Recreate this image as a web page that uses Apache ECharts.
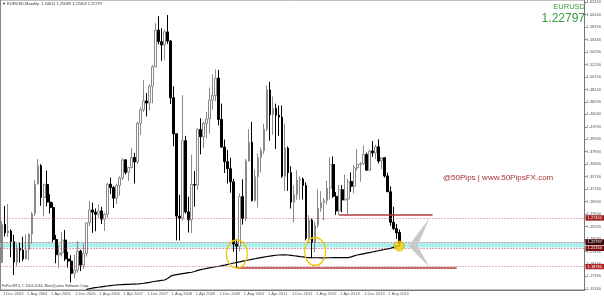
<!DOCTYPE html>
<html><head><meta charset="utf-8">
<script src="https://cdn.jsdelivr.net/npm/echarts@6/dist/echarts.min.js"></script>
<style>html,body{margin:0;padding:0;background:#fff}#c{width:604px;height:297px}</style>
</head><body><div id="c"></div>
<script>
// ---- data ----
const tickLabels = ["1 Dec 2003","1 Aug 2004","1 Apr 2005","1 Dec 2005","1 Aug 2006","1 Apr 2007","1 Dec 2007","1 Aug 2008","1 Apr 2009","1 Dec 2009","1 Aug 2010","1 Apr 2011","1 Dec 2011","1 Aug 2012","1 Apr 2013","1 Dec 2013","1 Aug 2014"];
const yTicks = [1.62490,1.60440,1.58390,1.56340,1.54290,1.52240,1.50190,1.48140,1.46090,1.44040,1.41990,1.39940,1.37890,1.35840,1.33790,1.31740,1.29690,1.27640,1.25590,1.23540,1.21490,1.19440,1.17390,1.15340];
const opens = [1.1965,
1.2595,1.2455,1.2485,1.2310,1.1975,1.2200,1.2170,1.2025,1.2175,1.2435,1.2770,1.3260,
1.3560,1.3035,1.3250,1.2960,1.2870,1.2345,1.2095,1.2125,1.2335,1.2025,1.1990,1.1790,
1.1840,1.2155,1.1925,1.2115,1.2620,1.2830,1.2795,1.2760,1.2815,1.2680,1.2760,1.3255,
1.3200,1.3025,1.3235,1.3355,1.3655,1.3450,1.3530,1.3695,1.3620,1.4255,1.4480,1.4625,
1.4590,1.4865,1.5185,1.5790,1.5600,1.5545,1.5760,1.5610,1.4675,1.4085,1.2730,1.2695,
1.3970,1.2800,1.2670,1.3250,1.3240,1.4155,1.4035,1.4255,1.4330,1.4640,1.4715,1.5000,
1.4320,1.3865,1.3625,1.3510,1.3295,1.2270,1.2235,1.3050,1.2690,1.3635,1.3945,1.2985,
1.3380,1.3695,1.3805,1.4160,1.4805,1.4395,1.4500,1.4390,1.4360,1.3385,1.3850,1.3445,
1.2960,1.3085,1.3325,1.3340,1.3235,1.2365,1.2665,1.2300,1.2580,1.2860,1.2955,1.2985,
1.3190,1.3580,1.3055,1.2815,1.3165,1.2995,1.3010,1.3300,1.3220,1.3525,1.3580,1.3590,
1.3745,1.3485,1.3800,1.3770,1.3870,1.3635,1.3690,1.3390,1.3130,1.2630,1.2525,1.2461];
const highs = [1.2648,
1.2898,1.2930,1.2510,1.2424,1.2272,1.2290,1.2390,1.2430,1.2445,1.2800,1.3325,1.3667,
1.3585,1.3265,1.3480,1.3090,1.2955,1.2420,1.2250,1.2475,1.2500,1.2145,1.2085,1.2095,
1.2320,1.2180,1.2280,1.2625,1.2980,1.2950,1.2855,1.2920,1.2880,1.2785,1.3280,1.3365,
1.3225,1.3255,1.3385,1.3680,1.3665,1.3540,1.3850,1.3770,1.4280,1.4525,1.4965,1.4755,
1.4900,1.5215,1.5905,1.6020,1.5820,1.5800,1.6038,1.5625,1.4865,1.4085,1.3080,1.4720,
1.4050,1.3050,1.3740,1.3470,1.4175,1.4340,1.4280,1.4445,1.4845,1.5060,1.5145,1.5135,
1.4580,1.3990,1.3820,1.3690,1.3340,1.2350,1.3105,1.3335,1.3670,1.4160,1.4280,1.3500,
1.3760,1.3860,1.4250,1.4880,1.4940,1.4700,1.4580,1.4550,1.4550,1.4250,1.3875,1.3550,
1.3235,1.3485,1.3385,1.3365,1.3285,1.2745,1.2690,1.2640,1.3170,1.3140,1.3030,1.3310,
1.3695,1.3710,1.3125,1.3245,1.3240,1.3415,1.3345,1.3450,1.3570,1.3830,1.3620,1.3895,
1.3775,1.3825,1.3965,1.3905,1.3993,1.3675,1.3700,1.3445,1.3220,1.2885,1.2600,1.2509];
const lows = [1.1960,
1.2394,1.2387,1.2055,1.1760,1.1905,1.1965,1.1985,1.2020,1.2005,1.2275,1.2730,1.3250,
1.2900,1.2727,1.2890,1.2770,1.2300,1.1955,1.1870,1.2065,1.1990,1.1880,1.1640,1.1710,
1.1800,1.1825,1.1860,1.2065,1.2565,1.2455,1.2480,1.2695,1.2600,1.2485,1.2700,1.3095,
1.2865,1.2930,1.3065,1.3320,1.3415,1.3310,1.3515,1.3265,1.3585,1.4065,1.4445,1.4370,
1.4465,1.4585,1.5180,1.5555,1.5285,1.5300,1.5565,1.4575,1.3880,1.2330,1.2330,1.2655,
1.2770,1.2460,1.2455,1.2885,1.3160,1.3745,1.3850,1.4010,1.4085,1.4480,1.4620,1.4220,
1.3855,1.3440,1.3265,1.3115,1.2145,1.1876,1.2150,1.2590,1.2645,1.3630,1.2970,1.2970,
1.2870,1.3445,1.3750,1.4125,1.3970,1.4070,1.3835,1.4050,1.3360,1.3145,1.3145,1.2855,
1.2625,1.3000,1.3000,1.3000,1.2330,1.2285,1.2042,1.2135,1.2535,1.2800,1.2660,1.2925,
1.3000,1.3030,1.2750,1.2745,1.2795,1.2990,1.2755,1.3130,1.3105,1.3480,1.3295,1.3570,
1.3475,1.3475,1.3705,1.3670,1.3595,1.3500,1.3365,1.3130,1.2570,1.2500,1.2355,1.2240];
const closes = [1.2595,
1.2455,1.2485,1.2310,1.1975,1.2200,1.2170,1.2025,1.2175,1.2435,1.2770,1.3260,1.3560,
1.3035,1.3250,1.2960,1.2870,1.2345,1.2095,1.2125,1.2335,1.2025,1.1990,1.1790,1.1840,
1.2155,1.1925,1.2115,1.2620,1.2830,1.2795,1.2760,1.2815,1.2680,1.2760,1.3255,1.3200,
1.3025,1.3235,1.3355,1.3655,1.3450,1.3530,1.3695,1.3620,1.4255,1.4480,1.4625,1.4590,
1.4865,1.5185,1.5790,1.5600,1.5545,1.5760,1.5610,1.4675,1.4085,1.2730,1.2695,1.3970,
1.2800,1.2670,1.3250,1.3240,1.4155,1.4035,1.4255,1.4330,1.4640,1.4715,1.5000,1.4320,
1.3865,1.3625,1.3510,1.3295,1.2270,1.2235,1.3050,1.2690,1.3635,1.3945,1.2985,1.3380,
1.3695,1.3805,1.4160,1.4805,1.4395,1.4500,1.4390,1.4360,1.3385,1.3850,1.3445,1.2960,
1.3085,1.3325,1.3340,1.3235,1.2365,1.2665,1.2300,1.2580,1.2860,1.2955,1.2985,1.3190,
1.3580,1.3055,1.2815,1.3165,1.2995,1.3010,1.3300,1.3220,1.3525,1.3580,1.3590,1.3745,
1.3485,1.3800,1.3770,1.3870,1.3635,1.3690,1.3390,1.3130,1.2630,1.2525,1.2455,1.22797];
const maValues = [null,null,null,null,null,null,null,null,null,null,null,null,null,null,
null,null,null,null,null,null,null,null,null,null,null,null,null,null,
1.1525,1.1535,1.1545,1.1553,1.1560,1.1567,1.1574,1.1580,1.1586,1.1592,1.1597,1.1601,
1.1604,1.1606,1.1608,1.1610,1.1612,1.1613,1.1618,1.1625,1.1633,1.1641,1.1650,1.1658,
1.1665,1.1672,1.1679,1.1705,1.1742,1.1758,1.1768,1.1776,1.1784,1.1792,1.1799,1.1806,
1.1818,1.1838,1.1850,1.1860,1.1870,1.1879,1.1888,1.1897,1.1905,1.1914,1.1924,1.1935,
1.1946,1.1958,1.1968,1.1978,1.1988,1.1998,1.2008,1.2018,1.2028,1.2038,1.2047,1.2056,
1.2065,1.2073,1.2080,1.2086,1.2090,1.2091,1.2091,1.2090,1.2085,1.2078,1.2071,1.2064,
1.2058,1.2052,1.2048,1.2046,1.2045,1.2045,1.2044,1.2044,1.2045,1.2045,1.2046,1.2046,
1.2046,1.2046,1.2046,1.2047,1.2060,1.2075,1.2090,1.2100,1.2110,1.2120,1.2130,1.2140,
1.2150,1.2160,1.2170,1.2180,1.2190,1.2200,1.2215,1.2228,1.2238];
const resLevel = 1.2745, supLevel = 1.1876, bandTop = 1.2295, bandBottom = 1.2215, lastPrice = 1.22797;
const resSegment = [112, 143];   // month indices
const supSegment = [78, 151];
const circleCenters = [[78, 1.2106], [104, 1.2148]];
const dotPoint = [[132, 1.2238]];
const chevronPts = [[142, 1.2699], [135, 1.2238], [142, 1.1893], [138, 1.2238]];

// categories: monthly slots starting Dec 2003
const categories = [];
for (let i = 0; i < 194; i++) { const t = 11 + i; categories.push((2003 + Math.floor(t / 12)) + '-' + String(t % 12 + 1).padStart(2, '0')); }
const candleData = opens.map((o, i) => [o, closes[i], lows[i], highs[i]]);

const FONT = 'Liberation Sans';
const boxLabel = (v, bg) => ({show: true, position: 'end', formatter: v.toFixed(5), color: '#fff', backgroundColor: bg,
  fontSize: 4, fontFamily: FONT, padding: [0.8, 2, 0.6, 2], distance: 1});
const showTick = (i) => i % 8 === 0 && i / 8 < tickLabels.length;
const dotted = (c) => ({type: [1, 2], color: c, width: 1});

const chart = echarts.init(document.getElementById('c'), null, {renderer: 'canvas'});
chart.setOption({
  animation: false,
  backgroundColor: '#fff',
  textStyle: {fontFamily: FONT},
  grid: {left: 0.5, right: 16.65, top: 0, bottom: 7, show: true, borderColor: '#888', borderWidth: 1},
  xAxis: {type: 'category', data: categories, boundaryGap: true,
    axisLine: {lineStyle: {color: '#777', width: 1}},
    axisTick: {alignWithLabel: true, interval: showTick, length: 3, lineStyle: {color: '#777'}},
    axisLabel: {interval: showTick, formatter: (v, i) => tickLabels[i / 8], align: 'left', padding: [0, 0, 0, 1],
      fontSize: 4, color: '#555', margin: 2, fontFamily: FONT},
    splitLine: {show: false}},
  yAxis: {type: 'value', position: 'right', min: 1.15143, max: 1.62848,
    axisLine: {show: true, lineStyle: {color: '#777'}},
    axisTick: {show: true, length: 2, customValues: yTicks, lineStyle: {color: '#777'}},
    axisLabel: {customValues: yTicks, formatter: v => v.toFixed(5), fontSize: 4, color: '#555', margin: 2, fontFamily: FONT},
    splitLine: {show: false}},
  series: [
    {type: 'candlestick', data: candleData, barWidth: 2.2, z: 3,
      itemStyle: {color: '#ffffff', borderColor: '#8a8a8a', color0: '#000000', borderColor0: '#000000', borderWidth: 1},
      markArea: {silent: true, itemStyle: {color: '#aeeeee'}, data: [[{yAxis: bandTop}, {yAxis: bandBottom}]]},
      markLine: {symbol: ['none', 'none'], silent: true, animation: false, label: {show: false},
        data: [
          {yAxis: resLevel, lineStyle: dotted('#cc6a6a'), label: boxLabel(resLevel, '#9b1b1b')},
          {yAxis: supLevel, lineStyle: dotted('#cc6a6a'), label: boxLabel(supLevel, '#b02424')},
          {yAxis: bandTop, lineStyle: dotted('#b04848'), label: boxLabel(bandTop, '#7a1212')},
          {yAxis: bandBottom, lineStyle: dotted('#b04848'), label: boxLabel(bandBottom, '#7a1212')},
          {yAxis: lastPrice, lineStyle: {color: 'rgba(0,0,0,0)', width: 0}, label: boxLabel(lastPrice, '#3a0a0a')},
          [{coord: [resSegment[0], resLevel], lineStyle: {type: 'solid', color: '#b33a3a', width: 1.5}},
           {coord: [resSegment[1], resLevel], lineStyle: {type: 'solid', color: '#b33a3a', width: 1.5}}],
          [{coord: [supSegment[0], supLevel], lineStyle: {type: 'solid', color: '#b33a3a', width: 1.5}},
           {coord: [supSegment[1], supLevel], lineStyle: {type: 'solid', color: '#b33a3a', width: 1.5}}]
        ]}},
    {type: 'line', data: maValues, symbol: 'none', z: 4, lineStyle: {color: '#000', width: 1.2}, silent: true},
    {type: 'custom', data: [[0]], z: 5, silent: true,
      renderItem: (p, api) => ({type: 'polygon', shape: {points: chevronPts.map(pt => api.coord(pt))}, style: {fill: '#c9c9c9'}})},
    {type: 'custom', data: circleCenters, z: 6, silent: true,
      renderItem: (p, api) => { const c = api.coord([api.value(0), api.value(1)]);
        return {type: 'circle', x: c[0], y: c[1], scaleX: 0.75, shape: {cx: 0, cy: 0, r: 14},
          style: {fill: 'none', stroke: '#f2c500', lineWidth: 1.5, strokeNoScale: true}}; }},
    {type: 'scatter', data: dotPoint, symbolSize: 10, z: 7, silent: true,
      itemStyle: {color: '#f4d010', borderColor: '#d8b000', borderWidth: 1}}
  ],
  graphic: [
    {type: 'text', left: 2, top: 2, style: {text: '\u25BC EURUSD,Monthly  1.24611 1.25089 1.22403 1.22797', font: '4px "Liberation Sans"', fill: '#333'}},
    {type: 'text', right: 19, top: 3, style: {text: 'EURUSD', font: '7.5px "Liberation Sans"', fill: '#3a993a'}},
    {type: 'text', right: 19, top: 13, style: {text: '1.22797', font: '12px "Liberation Sans"', fill: '#3a993a'}},
    {type: 'text', left: 443, top: 174, style: {text: '@50Pips | www.50PipsFX.com', font: '8px "Liberation Sans"', fill: '#a83232'}},
    {type: 'text', left: 2, top: 284, style: {text: 'FxPro MT4, \u00A9 2001-2014, MetaQuotes Software Corp.', font: '3.6px "Liberation Sans"', fill: '#333'}}
  ]
});
</script>
</body></html>
